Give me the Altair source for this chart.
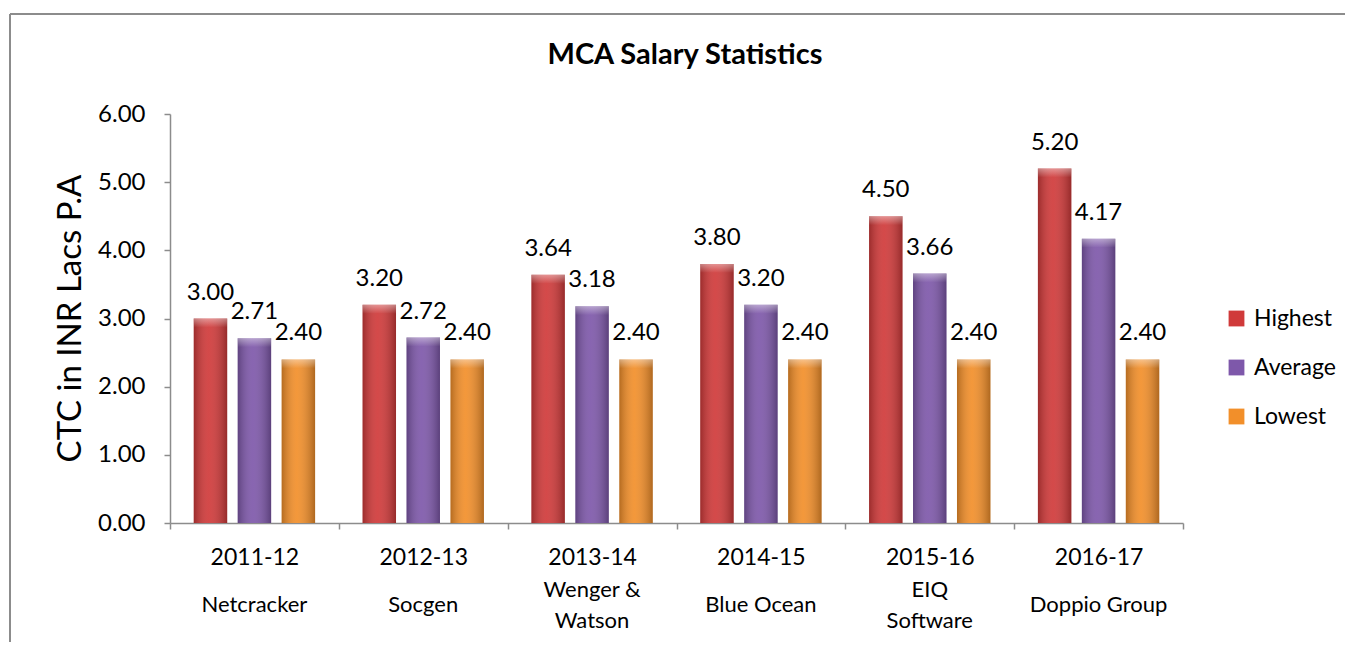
import altair as alt
import pandas as pd

years = ["2011-12", "2012-13", "2013-14", "2014-15", "2015-16", "2016-17"]
companies = ["Netcracker", "Socgen", "Wenger &\nWatson", "Blue Ocean", "EIQ\nSoftware", "Doppio Group"]
highest = [3.00, 3.20, 3.64, 3.80, 4.50, 5.20]
average = [2.71, 2.72, 3.18, 3.20, 3.66, 4.17]
lowest = [2.40, 2.40, 2.40, 2.40, 2.40, 2.40]
series = ["Highest", "Average", "Lowest"]
colors = ["#D03A3A", "#7E58AA", "#F28F2A"]
chart_title = ["MCA Salary Statistics"]

rows = []
for i, yr in enumerate(years):
    for s, vals in zip(series, [highest, average, lowest]):
        rows.append({"Year": yr, "Series": s, "Value": vals[i]})
df = pd.DataFrame(rows)
comp_df = pd.DataFrame({"Year": years, "Company": companies})
one = pd.DataFrame({"Title": chart_title})

W, H = 1013, 409
FONT = "Lato"
GRAY = "#8c8c8c"

x = alt.X("Year:N", sort=years,
          scale=alt.Scale(paddingInner=0, paddingOuter=0),
          axis=alt.Axis(title=None, labelAngle=0, tickBand="extent", labelFontSize=23,
                        labelFont=FONT, labelColor="#000", labelPadding=17, tickSize=6,
                        domainColor=GRAY, tickColor=GRAY, domainWidth=1.5, tickWidth=1.5))
xo = alt.XOffset("Series:N", sort=series,
                 scale=alt.Scale(paddingInner=0.239, paddingOuter=0.54))
y = alt.Y("Value:Q", scale=alt.Scale(domain=[0, 6]),
          axis=alt.Axis(title="CTC in INR Lacs P.A", format=".2f", values=[0, 1, 2, 3, 4, 5, 6],
                        grid=False, labelFontSize=24, labelFont=FONT, labelColor="#000",
                        labelPadding=19, tickSize=6, domainColor=GRAY, tickColor=GRAY,
                        domainWidth=1.5, tickWidth=1.5,
                        titleFontSize=33, titleFont=FONT, titleFontWeight="normal",
                        titleColor="#000", titleX=-90, titleY=204, titleAngle=270,
                        titleBaseline="alphabetic", titleAlign="center"))
color = alt.Color("Series:N", sort=series,
                  scale=alt.Scale(domain=series, range=colors),
                  legend=alt.Legend(title=None, orient="none", legendX=1055, legendY=193,
                                    symbolType="square", symbolSize=250, symbolStrokeWidth=0,
                                    symbolOpacity=1, labelFontSize=23, labelFont=FONT,
                                    labelColor="#000", rowPadding=25, labelOffset=6))

bars = alt.Chart(df).mark_bar(strokeWidth=0).encode(x=x, xOffset=xo, y=y, color=color)

shade = alt.Chart(df).mark_bar(
    fill=alt.Gradient(gradient="linear", x1=0, y1=0, x2=1, y2=0,
                      stops=[alt.GradientStop(color="rgba(0,0,0,0.25)", offset=0),
                             alt.GradientStop(color="rgba(255,255,255,0.08)", offset=0.45),
                             alt.GradientStop(color="rgba(0,0,0,0.28)", offset=1)])
).encode(x=x, xOffset=xo, y=y)

cap = alt.Chart(df).transform_calculate(
    CapBase="datum.Value - 0.13"
).mark_bar(
    fill=alt.Gradient(gradient="linear", x1=0, y1=0, x2=0, y2=1,
                      stops=[alt.GradientStop(color="rgba(255,255,255,0.40)", offset=0),
                             alt.GradientStop(color="rgba(255,255,255,0.0)", offset=1)])
).encode(x=x, xOffset=xo, y=y, y2="CapBase:Q")

labels = alt.Chart(df).mark_text(baseline="alphabetic", dy=-19, fontSize=24, font=FONT,
                                 color="#000").encode(
    x=x, xOffset=xo, y=y, text=alt.Text("Value:Q", format=".2f"))

company_one = alt.Chart(comp_df).transform_filter(
    "indexof(datum.Company, '\\n') < 0"
).mark_text(fontSize=22, font=FONT, color="#000", baseline="middle").encode(
    x=x, y=alt.value(491), text="Company:N")

company_two = alt.Chart(comp_df).transform_filter(
    "indexof(datum.Company, '\\n') >= 0"
).mark_text(fontSize=22, font=FONT, color="#000", lineBreak="\n",
            baseline="middle", lineHeight=31).encode(
    x=x, y=alt.value(476), text="Company:N")

title = alt.Chart(one).mark_text(fontSize=29, font=FONT, fontWeight="bold", color="#000",
                                 baseline="alphabetic", align="center").encode(
    x=alt.value(515), y=alt.value(-50), text="Title:N")

frame_left = alt.Chart(one).mark_rule(color=GRAY, strokeWidth=2).encode(
    x=alt.value(-160), y=alt.value(-100), y2=alt.value(560))
frame_top = alt.Chart(one).mark_rule(color=GRAY, strokeWidth=2).encode(
    x=alt.value(-160), x2=alt.value(1200), y=alt.value(-100))

chart = alt.layer(bars, shade, cap, labels, company_one, company_two, title,
                  frame_left, frame_top).properties(
    width=W, height=H,
    autosize=alt.AutoSizeParams(type="none"),
    padding={"left": 162, "top": 106, "right": 162, "bottom": 119},
    background="white",
).configure_view(stroke=None)

chart.save("out.html", embed_options={"renderer": "svg", "actions": False})
